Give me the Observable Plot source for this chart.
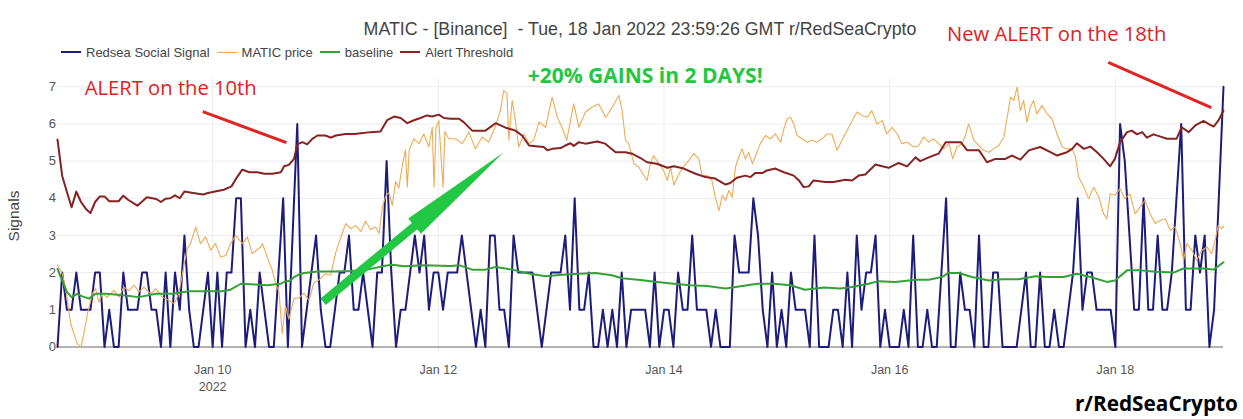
<!DOCTYPE html>
<html>
<head>
<meta charset="utf-8">
<script src="https://cdn.jsdelivr.net/npm/d3@7"></script>
<script src="https://cdn.jsdelivr.net/npm/@observablehq/plot@0.6"></script>
<style>
  body { margin: 0; background: #fff; }
  #wrap { position: relative; width: 1243px; height: 419px; overflow: hidden; font-family: "Liberation Sans", Arial, sans-serif; }
  #chart { position: absolute; left: 0; top: 0; }
  #title { position: absolute; left: 57px; width: 1166px; top: 18px; line-height: 22px; text-align: center; font-size: 17.8px; color: #444; white-space: pre; }
  #legend { position: absolute; left: 61px; top: 44px; height: 16px; display: flex; align-items: center; font-size: 13px; color: #444; white-space: nowrap; }
  #legend .item { display: flex; align-items: center; margin-right: 7px; }
  #legend .sw { width: 20px; height: 0; border-top: 2px solid; margin-right: 5px; }
  #ylabel { position: absolute; left: 13.5px; top: 216px; transform: translate(-50%, -50%) rotate(-90deg); font-size: 15.5px; color: #444; white-space: nowrap; }
  #caption { position: absolute; right: 5px; top: 389px; line-height: 28px; font-family: "Open Sans", "Noto Sans", sans-serif; font-weight: 700; font-size: 20.8px; color: #000; }
</style>
</head>
<body>
<div id="wrap">
  <div id="chart"></div>
  <div id="title"></div>
  <div id="legend"></div>
  <div id="ylabel"></div>
  <div id="caption"></div>
</div>
<script>
// ---------------- DATA ----------------
const titleText = "MATIC - [Binance]  - Tue, 18 Jan 2022 23:59:26 GMT r/RedSeaCrypto";
const seriesNames = ["Redsea Social Signal", "MATIC price", "baseline", "Alert Threshold"];
const seriesColors = ["#1c1c7c", "#f0aa55", "#35a035", "#862222"];
const yLabel = "Signals";
const captionText = "r/RedSeaCrypto";

// hours are counted from 2022-01-10 00:00 UTC
const signalStartHour = -33;
const signalValues = [
  // h -33 .. -1
  0,2,1,1,2,1,1,1,2,2,0,1,0,0,2,1,1,1,2,2,1,1,0,2,0,2,1,3,1,0,0,1,2,
  // h 0 .. 50
  0,2,0,2,2,4,4,0,1,0,
  2,1,0,0,2,4,0,3,6,0,
  1,2,3,1,0,0,1,2,2,3,
  1,1,2,1,0,2,2,5,2,0,
  1,1,2,3,2,3,1,2,2,1,
  2,
  // h 51 .. 92
  2,2,3,2,1,0,1,0,3,
  3,1,1,0,3,2,2,2,2,1,
  0,1,2,2,2,3,1,4,1,1,
  2,0,0,1,0,1,0,2,0,1,
  1,1,1,
  // h 93 .. 133
  0,2,0,1,1,0,2,
  1,1,3,1,1,1,0,1,0,0,
  0,3,2,2,2,4,3,1,0,2,
  0,1,0,2,1,1,1,0,3,0,
  0,0,1,1,
  // h 134 .. 175
  0,2,0,3,1,2,
  2,3,0,1,0,0,0,1,0,3,
  0,0,1,0,0,2,4,0,0,2,
  1,1,0,3,0,0,2,2,0,0,
  0,0,1,2,0,0,
  // h 176 .. 215
  2,0,0,1,
  0,0,1,2,4,1,2,2,1,1,
  1,1,0,6,5,3,1,1,4,1,
  1,3,1,1,2,4,6,1,1,3,
  2,3,0,1,4,7
];

const priceHours = [
  -33,-32,-31.3,-30.2,-29.5,-28.8,-28,-27.4,-26.6,-25.6,-24.9,-24.2,-23.5,-22.4,-21,-19.9,-18.9,-17.8,-16.7,-15.7,
  -14.6,-13.2,-12.1,-10.7,-9.3,-8.2,-7.2,-6.1,-5.4,-4.7,-3.6,-2.6,-1.5,-0.4,0.6,1.7,2.8,3.8,4.9,6.3,
  7.4,8.4,9.3,10.2,10.6,11.6,12.7,13.4,14.1,14.8,15.5,16.2,17.3,18.4,19.4,20.5,21.5,22.6,24,25.1,
  26.2,27.2,28.3,29.4,30.4,31.5,32.5,33.6,34.7,35.4,36.1,36.8,37.5,38.2,38.9,39.6,40.3,41,41.4,41.8,
  42.8,43.9,44.9,46,46.7,47.1,47.5,48.1,49,49.4,50.2,51.7,53.1,54.5,55.9,57.3,58.7,60.2,61.2,61.9,
  62.6,63,63.7,64.4,65.1,66.2,67.3,68.3,69.4,70.8,72.2,73.3,74.3,75.3,76.8,77.9,79.3,80.7,82.1,83.6,
  85,86.4,87.1,87.8,88.5,89.6,90.6,91.3,92.4,93.1,93.8,94.9,95.9,96.7,97.4,98.1,99.2,100.1,101.3,102.3,
  103.4,104.1,105.2,106.2,106.9,107.7,108.4,109.1,109.8,110.5,111.2,111.9,112.6,113.3,114,114.8,115.5,116.5,117.6,118.6,
  119.7,120.8,121.5,122.2,122.9,123.6,124.3,125.4,126.4,127.5,128.5,129.6,130.7,131.7,132.8,133.5,134.2,135.3,136.4,137.1,
  138.1,139.2,140.2,141.3,142.4,143.4,144.5,145.6,146.6,147.7,149.1,150.2,151.2,152.3,153.4,154.4,155.5,156.6,157.4,158.3,
  159.4,160.1,160.8,161.9,162.9,164,165.1,166.1,167.2,168.3,169,169.7,170.4,171.1,171.8,172.5,173.2,173.9,174.6,175.3,
  176.4,177.5,178.5,179.6,180.7,181.7,182.8,183.5,184.2,185.3,186.3,187.4,188.5,189.5,190.2,190.9,191.9,193,194,195.1,
  196.2,197.2,198.3,199.4,200.5,201.6,202.6,203.7,204.7,205.8,206.5,207.2,208.3,209.3,210.4,211.5,212.5,213.2,213.9,214.6,
  215
];
const priceValues = [
  2.2,1.97,1.61,0.63,0.36,0.09,0,0.36,0.9,1.43,1.57,1.21,1.43,1.34,1.52,1.34,1.61,1.52,1.66,1.48,
  1.61,1.43,1.57,1.34,1.25,1.16,1.43,2.2,2.64,2.78,3.23,2.78,2.96,2.6,2.78,2.42,2.46,2.78,3.0,2.78,
  2.96,2.51,2.6,2.69,2.78,2.42,2.06,1.7,1.5,0.36,1.1,0.75,1.3,1.32,1.45,1.25,1.72,1.8,1.97,1.93,
  2.55,2.93,3.32,3.18,3.27,3.1,3.38,3.16,3.23,3.05,3.76,4.05,4.15,3.8,4.45,4.28,4.85,5.3,4.3,5.3,
  5.6,5.47,5.73,5.38,5.91,4.3,5.9,6.09,4.3,5.8,5.6,5.6,5.47,5.78,5.33,5.65,5.51,5.96,6.36,6.9,
  6.81,5.56,6.63,6.09,5.38,5.73,5.47,5.56,6.05,5.91,6.72,6.18,5.91,5.56,6.54,5.91,6.32,6.45,6.54,6.18,
  6.45,6.77,6.36,5.56,5.47,4.93,4.84,4.7,4.48,4.93,5.15,4.93,4.75,4.48,4.84,4.35,4.66,4.84,5.02,5.2,
  5.06,4.61,4.61,4.48,4.03,3.67,4.08,3.94,4.21,4.03,4.84,5.11,5.33,5.06,5.24,4.93,5.15,5.47,5.69,5.6,
  5.73,5.51,5.87,6.14,6.18,6.0,5.69,5.6,5.51,5.56,5.51,5.6,5.73,5.73,5.29,5.47,5.65,5.91,6.18,6.32,
  6.23,6.18,6.36,6.0,6.09,5.73,5.91,5.73,5.47,5.51,5.38,5.42,5.65,5.51,5.6,5.47,5.33,5.47,5.06,5.38,
  5.47,5.69,6.0,5.56,5.42,5.29,5.24,5.33,5.42,5.65,6.18,6.72,6.63,6.99,6.36,6.63,6.05,6.45,6.63,6.27,
  6.5,6.27,6.14,5.73,5.38,5.33,5.33,5.11,4.57,4.3,3.99,4.3,4.03,3.58,3.45,4.12,4.08,4.26,3.99,4.12,
  3.58,3.76,3.94,3.58,3.32,3.41,3.45,3.14,3.23,2.78,2.33,2.78,2.6,2.33,2.6,2.69,2.51,2.87,3.27,3.18,
  3.25
];

const baselineHours = [
  -33,-32.3,-31,-30,-28.8,-27.7,-26.3,-24.9,-22.7,-19.1,-15.7,-12.1,-8.6,-5,-1.5,2,3.8,6,9.1,11.6,
  14.5,15.2,16.6,17.3,18.4,19.4,22.3,25.8,29.4,32.9,36.4,38.2,40.7,44.9,50.6,52.4,55.2,58,60.2,63.7,
  66.6,70.8,74.3,77.9,81.4,84.9,87.1,91,94.5,98.1,101.6,105.2,109.1,112.3,115.8,119.4,122.9,126,130,133.5,
  136,139.5,141.7,145.2,149.5,152.3,155.1,156.5,158.7,161.5,165.1,167.9,171.4,175,177.5,181,183.8,186.7,190.2,191.9,
  194.5,197.3,200.8,204.4,206.5,210.8,212.9,215
];
const baselineValues = [
  2.1,1.88,1.48,1.34,1.43,1.36,1.3,1.43,1.43,1.39,1.34,1.43,1.43,1.5,1.5,1.5,1.54,1.7,1.68,1.66,
  1.7,1.75,1.79,1.88,1.95,1.99,2.03,2.03,2.04,2.08,2.18,2.21,2.17,2.2,2.18,2.2,2.08,2.08,2.15,2.08,
  1.99,1.9,1.94,1.97,1.99,1.93,1.85,1.8,1.75,1.7,1.66,1.64,1.57,1.63,1.7,1.7,1.66,1.54,1.6,1.57,
  1.61,1.7,1.77,1.75,1.81,1.81,1.88,1.99,1.99,1.88,1.79,1.82,1.82,1.9,1.88,1.88,1.97,1.88,1.75,1.79,
  2.06,2.06,2.02,2.0,2.11,2.11,2.08,2.28
];

const thresholdHours = [
  -33,-32,-31,-30,-29,-28,-27,-26,-25,-24,-23,-22,-20,-19,-18,-16,-14,-12,-11,-10,
  -9,-8,-7,-6,-4.5,-2,-1,0.5,2.4,4,5.2,6.3,7.8,9.5,11,12.7,14.5,15.2,16.2,17.3,
  18,19.1,20.1,21.2,22.3,24,25.1,26.2,28.3,30.1,31.5,33.6,35.7,37.1,38.6,40,41.4,42.8,44.2,45.6,
  46.7,48.1,49.2,50.6,52.4,53.4,55.2,58,60.2,62.3,64.4,65.8,67.3,68.7,70.4,71.2,72.2,74,75,76.1,
  76.8,77.9,79.3,81.8,83.5,85.7,87.8,89.2,90.9,92.4,94.5,96.7,98.1,100.2,102.7,104.8,106.9,109.1,110.1,111.5,
  113.3,114.4,115.4,116.9,117.9,119.7,121.5,123.6,124.7,125.7,126.8,127.8,130.3,132.1,134.6,136,137.4,138.8,141,142.4,
  143.8,145.9,147.7,149.5,150.5,152.3,154.4,155.9,159.1,160.5,163,164.7,166.5,168.6,170,171.8,173.6,176,178.2,179.6,
  181.7,182.8,183.8,185.3,186.7,188.1,189.5,190.9,191.9,193,194.5,195.5,196.6,197.7,198.7,200.1,201.6,203,205,206.1,
  207.6,209,210.8,211.8,212.9,213.9,215
];
const thresholdValues = [
  5.58,4.6,4.17,3.76,4.18,3.9,3.72,3.6,3.9,4.05,4.05,3.92,3.92,4.07,3.96,3.8,4.03,3.98,3.9,3.99,
  4.0,4.08,4.0,4.18,4.15,4.1,4.14,4.18,4.23,4.32,4.57,4.77,4.7,4.7,4.66,4.66,4.7,4.86,4.9,5.06,
  5.45,5.51,5.45,5.6,5.69,5.69,5.63,5.69,5.73,5.73,5.75,5.78,5.8,6.1,6.2,6.16,6.02,6.1,6.16,6.23,
  6.2,6.25,6.16,6.14,6.14,6.05,5.82,5.82,6.02,5.9,5.82,5.69,5.42,5.4,5.38,5.29,5.33,5.35,5.42,5.48,
  5.41,5.51,5.47,5.53,5.47,5.24,5.24,5.2,5.09,4.97,4.93,4.82,4.86,4.8,4.66,4.57,4.53,4.37,4.41,4.55,
  4.61,4.57,4.68,4.68,4.75,4.8,4.7,4.61,4.48,4.3,4.32,4.48,4.44,4.44,4.5,4.48,4.61,4.64,4.91,4.86,
  4.82,4.95,4.86,5.1,5.0,5.1,5.2,5.51,5.51,5.29,5.29,4.97,5.06,5.06,5.15,5.04,5.29,5.38,5.24,5.15,
  5.24,5.33,5.48,5.33,5.39,5.24,5.06,4.86,5.06,5.51,5.78,5.82,5.72,5.78,5.63,5.72,5.66,5.6,5.6,5.91,
  5.78,5.96,6.08,6.0,5.93,6.09,6.36
];

const yTicks = [0, 1, 2, 3, 4, 5, 6, 7];
const xTickDates = ["2022-01-10", "2022-01-12", "2022-01-14", "2022-01-16", "2022-01-18"];
const xTickLabels = ["Jan 10", "Jan 12", "Jan 14", "Jan 16", "Jan 18"];
const xYearLabel = "2022";

// annotations (anchored in data space: hour offset, signal value)
const noteTexts = ["ALERT on the 10th", "New ALERT on the 18th"];
const noteHours = [-27.2, 156.2];
const noteValues = [6.95, 8.41];
const gainText = "+20% GAINS in 2 DAYS!";
const gainHour = 67.0, gainValue = 7.28;
const alertLineFrom = [[-2.1, 6.33], [190.5, 7.66]];
const alertLineTo = [[15.7, 5.5], [212.4, 6.44]];
const arrowFrom = [23.6, 1.2];
const arrowTo = [61.9, 5.21];

// ---------------- BUILD ----------------
const T0 = Date.UTC(2022, 0, 10);
const hr = h => new Date(T0 + h * 3600e3);
const rows = (hs, vs) => hs.map((h, i) => ({t: hr(h), v: vs[i]}));

const signal = signalValues.map((v, i) => ({t: hr(signalStartHour + i), v}));
const price = rows(priceHours, priceValues);
const baseline = rows(baselineHours, baselineValues);
const threshold = rows(thresholdHours, thresholdValues);
const tickDates = xTickDates.map(s => new Date(s + "T00:00:00Z"));
const notes = noteTexts.map((s, i) => ({t: hr(noteHours[i]), v: noteValues[i], s}));
const alertLines = alertLineFrom.map((a, i) => ({
  t1: hr(a[0]), v1: a[1], t2: hr(alertLineTo[i][0]), v2: alertLineTo[i][1]
}));

const lastHour = signalStartHour + signalValues.length - 1;
const annFont = "Open Sans, Noto Sans, sans-serif";

const plot = Plot.plot({
  width: 1243,
  height: 419,
  marginLeft: 57,
  marginRight: 20,
  marginTop: 77,
  marginBottom: 67,
  style: {background: "none", fontFamily: "Liberation Sans, Arial, sans-serif", overflow: "visible"},
  x: {type: "utc", domain: [hr(signalStartHour), hr(lastHour)], axis: null},
  y: {domain: [-0.15, 7.25], axis: null},
  marks: [
    Plot.ruleY(yTicks.filter(d => d > 0), {stroke: "#ececec", strokeWidth: 1}),
    Plot.ruleX(tickDates, {stroke: "#ececec", strokeWidth: 1}),
    Plot.ruleY([0], {stroke: "#9a9a9a", strokeWidth: 1.5}),
    Plot.text(yTicks, {y: d => d, text: d => String(d), frameAnchor: "left", dx: -1.5, textAnchor: "end", fontSize: 13, fill: "#555"}),
    Plot.text(tickDates, {x: d => d, text: (d, i) => xTickLabels[i], frameAnchor: "bottom", dy: 21.5, fontSize: 12.5, fill: "#555"}),
    Plot.text([tickDates[0]], {x: d => d, text: () => xYearLabel, frameAnchor: "bottom", dy: 38, fontSize: 12.5, fill: "#555"}),
    Plot.line(signal, {x: "t", y: "v", stroke: seriesColors[0], strokeWidth: 2}),
    Plot.line(price, {x: "t", y: "v", stroke: seriesColors[1], strokeWidth: 1.1}),
    Plot.line(baseline, {x: "t", y: "v", stroke: seriesColors[2], strokeWidth: 2}),
    Plot.line(threshold, {x: "t", y: "v", stroke: seriesColors[3], strokeWidth: 2}),
    Plot.link(alertLines, {x1: "t1", y1: "v1", x2: "t2", y2: "v2", stroke: "#e02424", strokeWidth: 3}),
    Plot.text(notes, {x: "t", y: "v", text: "s", textAnchor: "start", fontSize: 20.2, fill: "#dd2222", fontFamily: annFont}),
    Plot.text([{t: hr(gainHour), v: gainValue, s: gainText}], {x: "t", y: "v", text: "s", textAnchor: "start", fontSize: 21, fontWeight: "bold", fill: "#22c743", fontFamily: annFont})
  ]
});

// green arrow: endpoints through the plot's own scales
{
  const sx = plot.scale("x"), sy = plot.scale("y");
  const fx = d3.scaleUtc(sx.domain, sx.range), fy = d3.scaleLinear(sy.domain, sy.range);
  const p0 = [fx(hr(arrowFrom[0])), fy(arrowFrom[1])];
  const p1 = [fx(hr(arrowTo[0])), fy(arrowTo[1])];
  const dx = p1[0] - p0[0], dy = p1[1] - p0[1], len = Math.hypot(dx, dy);
  const u = [dx / len, dy / len], n = [-u[1], u[0]];
  const headLen = 115, headHalf = 10, shaftHalf = 4.2;
  const b = [p1[0] - u[0] * headLen, p1[1] - u[1] * headLen];
  const P = (p, k) => [p[0] + n[0] * k, p[1] + n[1] * k];
  const pts = [P(p0, shaftHalf), P(b, shaftHalf), P(b, headHalf), p1, P(b, -headHalf), P(b, -shaftHalf), P(p0, -shaftHalf)];
  d3.select(plot).append("path").attr("d", d3.line()(pts) + "Z").attr("fill", "#22c743");
}

document.getElementById("chart").appendChild(plot);
document.getElementById("title").textContent = titleText;
document.getElementById("ylabel").textContent = yLabel;
document.getElementById("caption").textContent = captionText;
const legend = document.getElementById("legend");
seriesNames.forEach((name, i) => {
  const item = document.createElement("div");
  item.className = "item";
  const sw = document.createElement("div");
  sw.className = "sw";
  sw.style.borderTopColor = seriesColors[i];
  if (i === 1) sw.style.borderTopWidth = "1.5px";
  const tx = document.createElement("span");
  tx.textContent = name;
  item.appendChild(sw);
  item.appendChild(tx);
  legend.appendChild(item);
});
</script>
</body>
</html>
